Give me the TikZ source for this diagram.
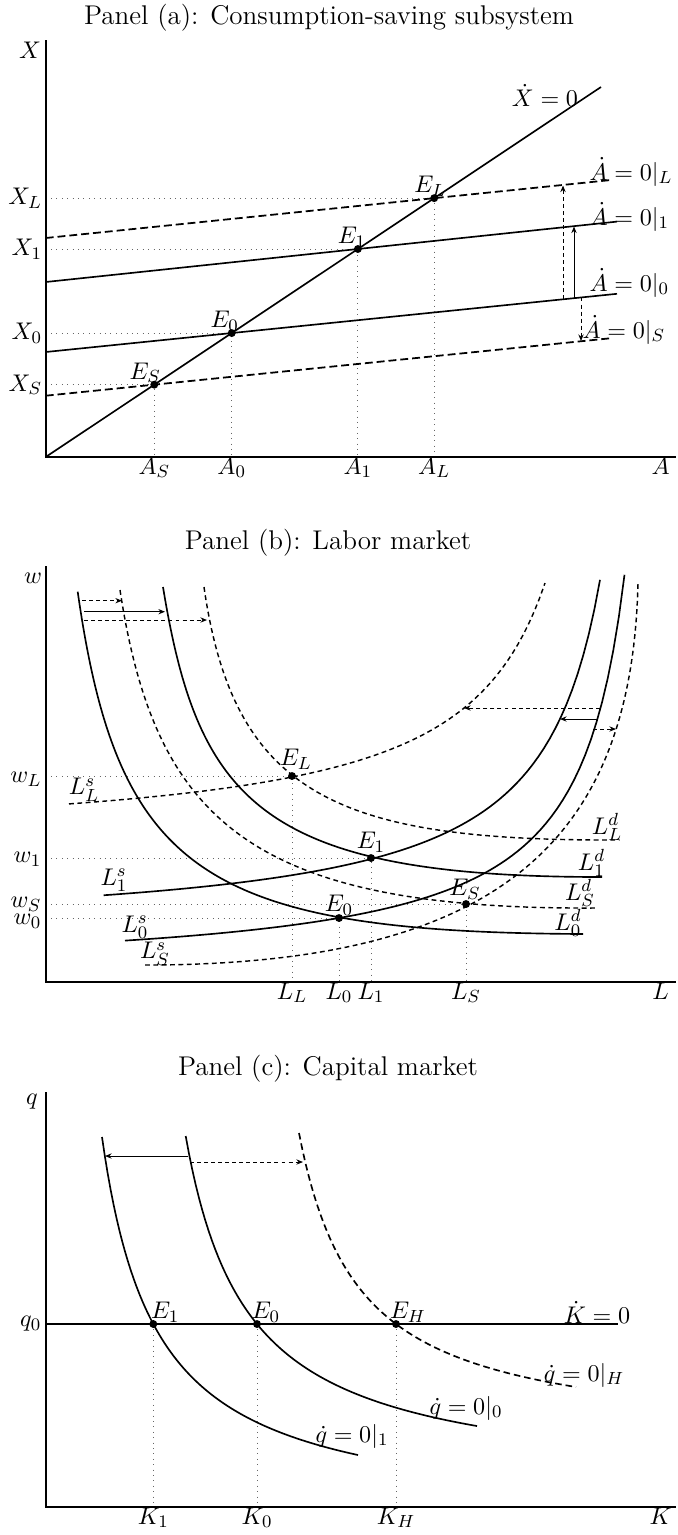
\documentclass[tikz,border=0pt]{standalone}
\usetikzlibrary{arrows.meta,calc}
\begin{document}
\begin{tikzpicture}[x=0.4545pt,y=-0.4545pt,
  axis/.style={line width=0.9pt},
  curve/.style={line width=0.75pt},
  dcurveA/.style={line width=0.8pt, dash pattern=on 3.6pt off 1.8pt},
  dcurveB/.style={line width=0.65pt, dash pattern=on 2.2pt off 1.6pt},
  dcurveC/.style={line width=0.75pt, dash pattern=on 3pt off 1.8pt},
  guide/.style={dotted, line width=0.45pt, black!60},
  shiftarrow/.style={line width=0.45pt, -{Stealth[length=3pt,width=2.4pt]}},
  dshiftarrow/.style={shiftarrow, dash pattern=on 1.8pt off 1.4pt},
  eq/.style={circle, fill, inner sep=0pt, minimum size=3.6pt},
  lab/.style={font=\fontsize{11.2}{13}\selectfont, inner sep=1pt},
  ttl/.style={font=\fontsize{12.3}{14}\selectfont, inner sep=1pt}
]
\useasboundingbox (0,0) rectangle (677,1535);

% ================= Panel (a) =================
\node[ttl] (ta) at (329,18) {Panel (a): Consumption-saving subsystem};
\coordinate (Oa) at (45.7,457);
\coordinate (YaT) at (45.7,40);
\coordinate (XaR) at (676,457);
\coordinate (XdotEnd) at (601,87);
\coordinate (LLa) at (45.7,238);  \coordinate (LLb) at (613,179.8);
\coordinate (L1a) at (45.7,282);  \coordinate (L1b) at (617,221.6);
\coordinate (L0a) at (45.7,352);  \coordinate (L0b) at (617,293.8);
\coordinate (LSa) at (45.7,395.7);\coordinate (LSb) at (613,338);
\coordinate (EaLc) at (intersection of Oa--XdotEnd and LLa--LLb);
\coordinate (Ea1c) at (intersection of Oa--XdotEnd and L1a--L1b);
\coordinate (Ea0c) at (intersection of Oa--XdotEnd and L0a--L0b);
\coordinate (EaSc) at (intersection of Oa--XdotEnd and LSa--LSb);
\foreach \n in {L,1,0,S}{
  \coordinate (Xa\n) at (Oa |- Ea\n c);
  \coordinate (Aa\n) at (Ea\n c |- Oa);
  \draw[guide] (Xa\n) -- (Ea\n c) -- (Aa\n);
}
\draw[axis] (YaT) -- (Oa) -- (XaR);
\draw[curve] (Oa) -- (XdotEnd);
\draw[dcurveA] (LLa) -- (LLb);
\draw[curve] (L1a) -- (L1b);
\draw[curve] (L0a) -- (L0b);
\draw[dcurveA] (LSa) -- (LSb);
\coordinate (arA1) at (563,299.3); \coordinate (arA2) at (563,185.5);
\coordinate (arB1) at (574,298.2); \coordinate (arB2) at (574,226.5);
\coordinate (arC1) at (581,297.5); \coordinate (arC2) at (581,341);
\draw[dshiftarrow] (arA1) -- (arA2);
\draw[shiftarrow] (arB1) -- (arB2);
\draw[dshiftarrow] (arC1) -- (arC2);
\foreach \n in {L,1,0,S}{ \node[eq] (Ea\n) at (Ea\n c) {}; }
\node[lab] (EaLlab) at ($(EaL)+(-4,-12)$) {$E_L$};
\node[lab] (Ea1lab) at ($(Ea1)+(-6,-12)$) {$E_1$};
\node[lab] (Ea0lab) at ($(Ea0)+(-7,-12)$) {$E_0$};
\node[lab] (EaSlab) at ($(EaS)+(-9,-12)$) {$E_S$};
\node[lab, anchor=east] (XaLlab) at ($(XaL)+(-1,0)$) {$X_L$};
\node[lab, anchor=east] (Xa1lab) at ($(Xa1)+(-1,0)$) {$X_1$};
\node[lab, anchor=east] (Xa0lab) at ($(Xa0)+(-1,0)$) {$X_0$};
\node[lab, anchor=east] (XaSlab) at ($(XaS)+(-1,0)$) {$X_S$};
\node[lab, anchor=base] (AaSlab) at ($(AaS)+(0,17)$) {$A_S$};
\node[lab, anchor=base] (Aa0lab) at ($(Aa0)+(0,17)$) {$A_0$};
\node[lab, anchor=base] (Aa1lab) at ($(Aa1)+(0,17)$) {$A_1$};
\node[lab, anchor=base] (AaLlab) at ($(AaL)+(0,17)$) {$A_L$};
\node[lab, anchor=base] (Aaxis) at (660.6,474) {$A$};
\node[lab] (Xaxis) at (30,50) {$X$};
\node[lab] (Xdotlab) at (545,95) {$\dot X = 0$};
\node[lab, anchor=west] (ALlab) at (587,172) {$\dot A = 0|_L$};
\node[lab, anchor=west] (A1lab) at (587,217) {$\dot A = 0|_1$};
\node[lab, anchor=west] (A0lab) at (587,283) {$\dot A = 0|_0$};
\node[lab, anchor=west] (ASlab) at (580,330) {$\dot A = 0|_S$};

% ================= Panel (b) =================
\node[ttl] (tb) at (328,543) {Panel (b): Labor market};
\coordinate (Ob) at (45.7,982);
\coordinate (YbT) at (45.7,566);
\coordinate (XbR) at (676,982);
\coordinate (EbLc) at (292,776);
\coordinate (Eb1c) at (371,858);
\coordinate (EbSc) at (466,904);
\coordinate (Eb0c) at (339,918);
\foreach \n in {L,1,S,0}{
  \coordinate (Wb\n) at (Ob |- Eb\n c);
  \coordinate (Lb\n) at (Eb\n c |- Ob);
  \draw[guide] (Wb\n) -- (Eb\n c) -- (Lb\n);
}
\draw[axis] (YbT) -- (Ob) -- (XbR);
% labour demand
\draw[curve] (77.7,591.7) .. controls (117.7,871.7) and (203,932) .. (583,934);
\draw[curve] (163,587) .. controls (198,800) and (260,877) .. (602,877);
\draw[dcurveB] (120,590) .. controls (155,820) and (250,910) .. (596,908);
\draw[dcurveB] (204,587) .. controls (234,797) and (340,841) .. (619.6,840);
% labour supply
\draw[curve] plot[domain=125:624.5, samples=90] (\x, {975.9 - 193.34/((672.7-\x)/100)});
\draw[curve] plot[domain=103.6:600, samples=90] (\x, {934.7 - 220.33/((662.1-\x)/100)});
\draw[dcurveB] plot[domain=69:545, samples=90] (\x, {845.1 - 232.70/((633.8-\x)/100)});
\draw[dcurveB] (145,965) .. controls (500,965) and (632,840) .. (638,583);
% shift arrows
\coordinate (ab1s) at (82,600.7);  \coordinate (ab1e) at (122,600.7);
\coordinate (ab2s) at (84,611.7);  \coordinate (ab2e) at (165,611.7);
\coordinate (ab3s) at (84,620);    \coordinate (ab3e) at (207,620);
\coordinate (ab4s) at (600,708);   \coordinate (ab4e) at (464,708);
\coordinate (ab5s) at (597,719);   \coordinate (ab5e) at (560,719);
\coordinate (ab6s) at (593,729);   \coordinate (ab6e) at (616,729);
\draw[dshiftarrow] (ab1s) -- (ab1e);
\draw[shiftarrow] (ab2s) -- (ab2e);
\draw[dshiftarrow] (ab3s) -- (ab3e);
\draw[dshiftarrow] (ab4s) -- (ab4e);
\draw[shiftarrow] (ab5s) -- (ab5e);
\draw[dshiftarrow] (ab6s) -- (ab6e);
\foreach \n in {L,1,S,0}{ \node[eq] (Eb\n) at (Eb\n c) {}; }
\node[lab] (EbLlab) at ($(EbL)+(4,-17)$) {$E_L$};
\node[lab] (Eb1lab) at ($(Eb1)+(0,-16)$) {$E_1$};
\node[lab] (EbSlab) at ($(EbS)+(-1,-15)$) {$E_S$};
\node[lab] (Eb0lab) at ($(Eb0)+(0,-13)$) {$E_0$};
\node[lab, anchor=east] (wLlab) at (44,779) {$w_L$};
\node[lab, anchor=east] (w1lab) at (44,859) {$w_1$};
\node[lab, anchor=east] (wSlab) at (44,904) {$w_S$};
\node[lab, anchor=east] (w0lab) at (44,921) {$w_0$};
\node[lab, anchor=base] (LLlab) at ($(LbL)+(0,17)$) {$L_L$};
\node[lab, anchor=base] (L0lab) at ($(Lb0)+(0,17)$) {$L_0$};
\node[lab, anchor=base] (L1lab) at ($(Lb1)+(0,17)$) {$L_1$};
\node[lab, anchor=base] (LSlab) at ($(LbS)+(0,17)$) {$L_S$};
\node[lab, anchor=base] (Lbaxis) at (660.6,999) {$L$};
\node[lab] (wbaxis) at (33,578) {$w$};
\node[lab] (LsLlab) at (84,790) {$L^s_L$};
\node[lab] (Ls1lab) at (114,880) {$L^s_1$};
\node[lab] (Ls0lab) at (135,927) {$L^s_0$};
\node[lab] (LsSlab) at (155,954) {$L^s_S$};
\node[lab] (LdLlab) at (607,827) {$L^d_L$};
\node[lab] (Ld1lab) at (591.5,863) {$L^d_1$};
\node[lab] (LdSlab) at (580,893) {$L^d_S$};
\node[lab] (Ld0lab) at (568,922.7) {$L^d_0$};

% ================= Panel (c) =================
\node[ttl] (tc) at (328,1069) {Panel (c): Capital market};
\coordinate (Oc) at (45.7,1507);
\coordinate (YcT) at (45.7,1092);
\coordinate (XcR) at (676,1507);
\coordinate (KdotA) at (45.7,1324);
\coordinate (KdotB) at (617.5,1324);
\coordinate (Ec1c) at (153.3,1324);
\coordinate (Ec0c) at (257,1324);
\coordinate (EcHc) at (396,1324);
\foreach \n in {1,0,H}{
  \coordinate (Kc\n) at (Ec\n c |- Oc);
  \draw[guide] (Ec\n c) -- (Kc\n);
}
\draw[axis] (YcT) -- (Oc) -- (XcR);
\draw[curve] (KdotA) -- (KdotB);
\draw[curve] plot[domain=102:358, samples=90] (\x, {1522.7 - 210.19/((\x-47.5)/100)});
\draw[curve] plot[domain=185.7:477, samples=90] (\x, {1487.9 - 218.69/((\x-123.55)/100)});
\draw[dcurveC] plot[domain=299:576, samples=90] (\x, {1441.9 - 185.02/((\x-239.1)/100)});
\coordinate (ac1s) at (188,1156); \coordinate (ac1e) at (105,1156);
\coordinate (ac2s) at (190,1162); \coordinate (ac2e) at (303,1162);
\draw[shiftarrow] (ac1s) -- (ac1e);
\draw[dshiftarrow] (ac2s) -- (ac2e);
\foreach \n in {1,0,H}{ \node[eq] (Ec\n) at (Ec\n c) {}; }
\node[lab] (Ec1lab) at ($(Ec1)+(12,-12)$) {$E_1$};
\node[lab] (Ec0lab) at ($(Ec0)+(9,-12)$) {$E_0$};
\node[lab] (EcHlab) at ($(EcH)+(12,-12)$) {$E_H$};
\node[lab, anchor=base] (K1lab) at ($(Kc1)+(0,17)$) {$K_1$};
\node[lab, anchor=base] (K0lab) at ($(Kc0)+(0,17)$) {$K_0$};
\node[lab, anchor=base] (KHlab) at ($(KcH)+(0,17)$) {$K_H$};
\node[lab, anchor=base] (Kcaxis) at (660.6,1524) {$K$};
\node[lab] (qcaxis) at (32,1102) {$q$};
\node[lab, anchor=east] (q0lab) at (44,1324) {$q_0$};
\node[lab] (Kdotlab) at (597,1312) {$\dot K = 0$};
\node[lab] (qHlab) at (584,1375) {$\dot q = 0|_H$};
\node[lab] (q0clab) at (466,1408) {$\dot q = 0|_0$};
\node[lab] (q1clab) at (352,1436) {$\dot q = 0|_1$};
\end{tikzpicture}
\end{document}
